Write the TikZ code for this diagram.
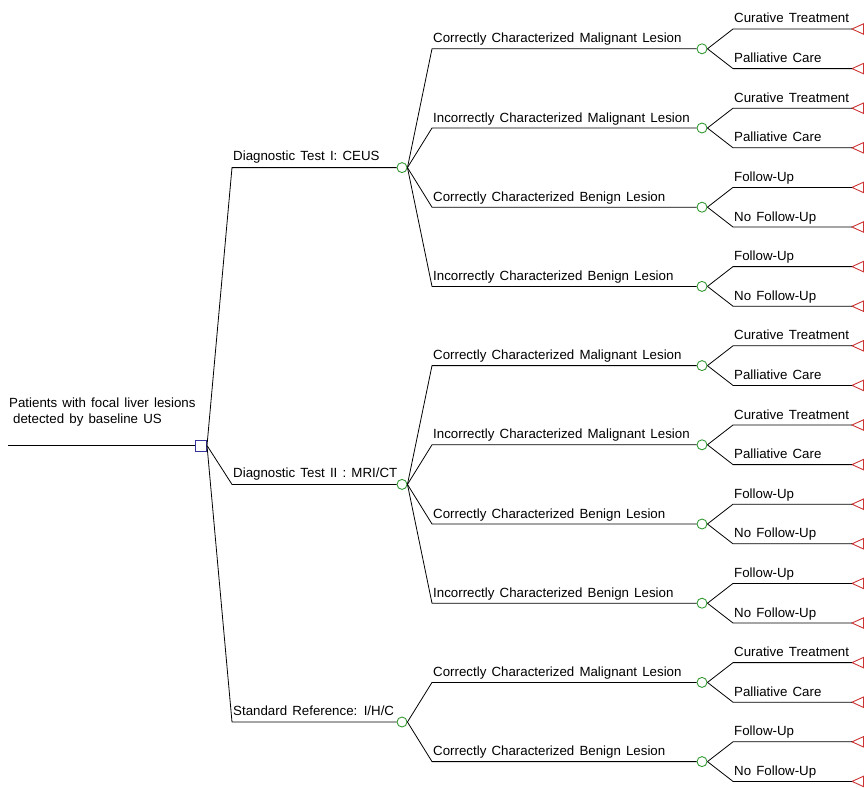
\documentclass[tikz,border=0pt]{standalone}
\usepackage{fontspec}
\setmainfont[WordSpace=1.4]{Liberation Sans}
\definecolor{decblue}{HTML}{333399}
\definecolor{chgreen}{HTML}{339933}
\definecolor{termred}{HTML}{CC3333}
\begin{document}
\begin{tikzpicture}[x=1pt,y=-1pt,
  font=\fontsize{13.3}{16}\selectfont,
  edge/.style={line width=0.8pt},
  decision/.style={draw=decblue, rectangle, line width=1pt, minimum size=11pt, inner sep=0pt},
  chance/.style={draw=chgreen, circle, line width=0.9pt, minimum size=10pt, inner sep=0pt},
  terminal/.style={draw=termred, line width=0.9pt, line join=miter},
  lab/.style={anchor=base west, inner sep=0pt}]
\useasboundingbox (0,0) rectangle (864,787);

% root
\coordinate (start) at (8,445.5);
\node[decision] (root) at (201,445.5) {};
\draw[edge] (start) -- (root.west);
\node[lab, align=left] at (9,423) {Patients with focal liver lesions\\\hspace*{4pt}detected by baseline US};

% level 1
\foreach \n/\y/\txt in {A/167.6/{Diagnostic Test I: CEUS},
                        B/484.4/{Diagnostic Test II : MRI/CT},
                        C/722/{Standard Reference: I/H/C}} {
  \node[chance] (\n) at (402,\y) {};
  \coordinate (\n-e) at (232,\y);
  \draw[edge] (root.east) -- (\n-e) -- (\n.west);
  \node[lab] at (233,\y-7) {\txt};
}

% level 2 and terminals
\foreach \p/\n/\y/\txt/\ta/\tb in {
  A/A1/48.8/{Correctly Characterized Malignant Lesion}/{Curative Treatment}/{Palliative Care},
  A/A2/128/{Incorrectly Characterized Malignant Lesion}/{Curative Treatment}/{Palliative Care},
  A/A3/207.2/{Correctly Characterized Benign Lesion}/{Follow-Up}/{No Follow-Up},
  A/A4/286.4/{Incorrectly Characterized Benign Lesion}/{Follow-Up}/{No Follow-Up},
  B/B1/365.6/{Correctly Characterized Malignant Lesion}/{Curative Treatment}/{Palliative Care},
  B/B2/444.8/{Incorrectly Characterized Malignant Lesion}/{Curative Treatment}/{Palliative Care},
  B/B3/524/{Correctly Characterized Benign Lesion}/{Follow-Up}/{No Follow-Up},
  B/B4/603.2/{Incorrectly Characterized Benign Lesion}/{Follow-Up}/{No Follow-Up},
  C/C1/682.4/{Correctly Characterized Malignant Lesion}/{Curative Treatment}/{Palliative Care},
  C/C2/761.6/{Correctly Characterized Benign Lesion}/{Follow-Up}/{No Follow-Up}} {
  \node[chance] (\n) at (702,\y) {};
  \coordinate (\n-e) at (432,\y);
  \draw[edge] (\p.east) -- (\n-e) -- (\n.west);
  \node[lab] at (433,\y-6) {\txt};
  % upper terminal
  \coordinate (\n-a) at (852,\y-19.8);
  \draw[terminal] (\n-a) -- ++(11.5,-5.2) -- ++(0,10.4) -- cycle;
  \coordinate (\n-ae) at (733,\y-19.8);
  \draw[edge] (\n.east) -- (\n-ae) -- (\n-a);
  \node[lab] at (734,\y-25.8) {\ta};
  % lower terminal
  \coordinate (\n-b) at (852,\y+19.8);
  \draw[terminal] (\n-b) -- ++(11.5,-5.2) -- ++(0,10.4) -- cycle;
  \coordinate (\n-be) at (733,\y+19.8);
  \draw[edge] (\n.east) -- (\n-be) -- (\n-b);
  \node[lab] at (734,\y+13.8) {\tb};
}
\end{tikzpicture}
\end{document}
